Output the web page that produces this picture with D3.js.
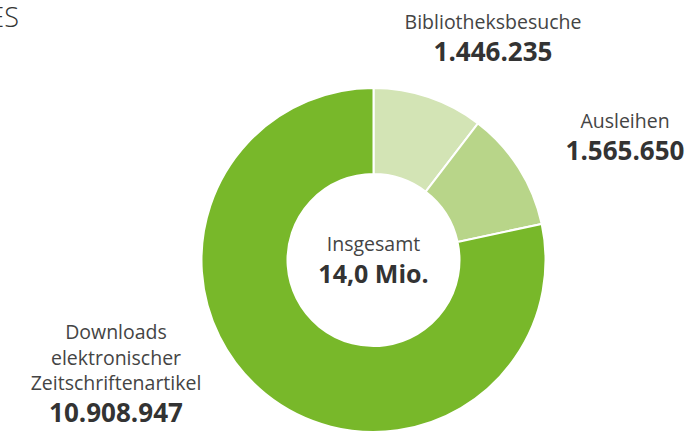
<!DOCTYPE html>
<html>
<head>
<meta charset="utf-8">
<script src="https://cdn.jsdelivr.net/npm/d3@7"></script>
<style>
  body { margin: 0; background: #fff; }
  svg { font-family: "Open Sans", "Noto Sans", sans-serif; }
</style>
</head>
<body>
<script>
// chart data
var categories = ["Bibliotheksbesuche", "Ausleihen", "Downloads elektronischer Zeitschriftenartikel"];
var values = [1446235, 1565650, 10908947];
var valueLabels = ["1.446.235", "1.565.650", "10.908.947"];
var colors = ["#d3e4b5", "#b8d589", "#78b82a"];
var totalLabel = ["Insgesamt", "14,0 Mio."];

var width = 700,
    height = 432;

var svg = d3.select("body")
    .append("svg")
    .attr("width", width)
    .attr("height", height);

// title cut off at the left edge (as in the original)
svg.append("text")
    .attr("x", 19)
    .attr("y", 27)
    .attr("text-anchor", "end")
    .style("font-size", "27px")
    .style("font-weight", 300)
    .style("fill", "#333")
    .text("ES");

var cx = 373.5,
    cy = 260,
    outer = 172,
    inner = 86;

var pie = d3.pie()
    .sort(null)
    .value(function(d){ return d; });

var arc = d3.arc()
    .innerRadius(inner)
    .outerRadius(outer);

var g = svg.append("g")
    .attr("transform", "translate(" + cx + "," + cy + ")");

g.selectAll(".slice")
    .data(pie(values))
    .enter()
    .append("path")
    .attr("class", "slice")
    .attr("d", arc)
    .style("fill", function(d, i){ return colors[i]; })
    .style("stroke", "#fff")
    .style("stroke-width", 2);

// center label
g.append("text")
    .attr("y", -9)
    .attr("text-anchor", "middle")
    .style("font-size", "19.5px")
    .style("fill", "#444")
    .text(totalLabel[0]);
g.append("text")
    .attr("y", 23)
    .attr("text-anchor", "middle")
    .style("font-size", "25px")
    .style("font-weight", "bold")
    .style("fill", "#333")
    .text(totalLabel[1]);

// slice labels: name lines + value
var labelPos = [
    {x: 493, y: 29, lines: ["Bibliotheksbesuche"]},
    {x: 625, y: 128, lines: ["Ausleihen"]},
    {x: 116, y: 339, lines: ["Downloads", "elektronischer", "Zeitschriftenartikel"]}
];

labelPos.forEach(function(p, i){
    var t = svg.append("g");
    p.lines.forEach(function(line, k){
        t.append("text")
            .attr("x", p.x)
            .attr("y", p.y + k * 25.5)
            .attr("text-anchor", "middle")
            .style("font-size", "19.5px")
            .style("fill", "#444")
            .text(line);
    });
    t.append("text")
        .attr("x", p.x)
        .attr("y", p.y + (p.lines.length - 1) * 25.5 + 31.5)
        .attr("text-anchor", "middle")
        .style("font-size", "26px")
        .style("font-weight", "bold")
        .style("fill", "#333")
        .text(valueLabels[i]);
});
</script>
</body>
</html>
